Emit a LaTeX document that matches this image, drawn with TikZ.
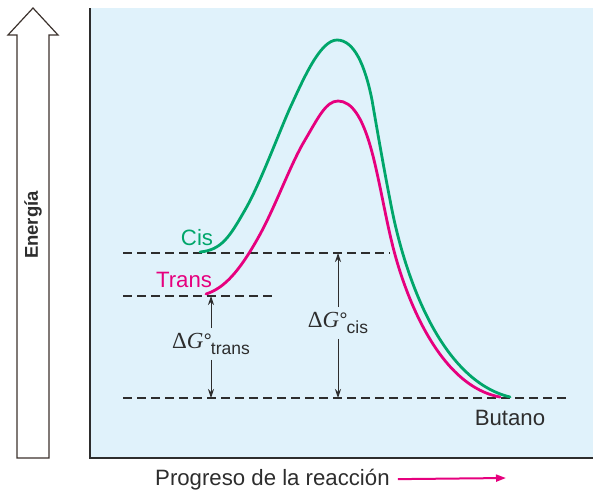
\documentclass[tikz,border=0pt]{standalone}
\usepackage{fontspec}
\setmainfont{Liberation Sans}
\newfontfamily\serifG{Liberation Serif}
\usetikzlibrary{arrows.meta}
\definecolor{panelblue}{RGB}{224,242,251}
\definecolor{cisgreen}{RGB}{0,166,106}
\definecolor{transpink}{RGB}{230,0,126}
\definecolor{inkgray}{RGB}{45,45,45}
\definecolor{arrowink}{RGB}{60,50,45}
\newcommand{\dGlabel}[1]{{\serifG\fontsize{23}{24}\selectfont Δ\textit{G}}{\fontsize{21}{21}\selectfont °}\kern-1pt\raisebox{-6pt}{\fontsize{17.5}{20}\selectfont #1}}

\begin{document}
\begin{tikzpicture}[x=1pt,y=-1pt,
  level/.style={draw=inkgray,line width=1.3pt,dash pattern=on 9pt off 5pt},
  curve/.style={line width=2.8pt,line join=round,line cap=round},
  lbl/.style={font=\fontsize{22.2}{24}\selectfont,inner sep=0pt},
  dg/.style={-{Stealth[length=9pt,width=6pt,inset=3pt]},draw=inkgray,line width=0.9pt}]
  \useasboundingbox (0,0) rectangle (593,491);
  % panel
  \fill[panelblue] (90,8) rectangle (593,458);
  \draw[inkgray,line width=2.2pt] (90,8) -- (90,458) -- (593,458);
  % energy arrow
  \draw[arrowink,line width=1.2pt,fill=white,line join=miter]
    (17,458) -- (17,35) -- (8,35) -- (33,8) -- (58,35) -- (49,35) -- (49,458) -- cycle;
  \node[rotate=90,inner sep=0pt,font=\bfseries\fontsize{18.5}{20}\selectfont,text=inkgray] (energia) at (33,225) {Energía};
  % levels
  \foreach \y/\xe in {253/390,296/275,398/568}
    \draw[level] (123,\y) -- (\xe,\y);
  % curves
  \draw[curve,transpink] (206,294) .. controls (225,288) and (240,270) .. (258,238)
    .. controls (275,208) and (290,165) .. (305,140)
    .. controls (318,118) and (326,101) .. (338,101)
    .. controls (352,101) and (362,118) .. (370,145)
    .. controls (378,172) and (385,215) .. (392,243)
    .. controls (402,285) and (435,385) .. (500,397);
  \draw[curve,cisgreen] (200,252) .. controls (222,250) and (230,236) .. (245,210)
    .. controls (260,184) and (278,135) .. (290,108)
    .. controls (303,80) and (320,40) .. (337,40)
    .. controls (354,40) and (365,65) .. (372,100)
    .. controls (378,135) and (385,175) .. (392,210)
    .. controls (405,275) and (440,380) .. (510,397);
  % labels
  \node[lbl,text=cisgreen] (cis) at (197,238) {Cis};
  \node[lbl,text=transpink] (trans) at (184,280) {Trans};
  \node[lbl,text=inkgray] (butano) at (510,418) {Butano};
  % free energy differences
  \coordinate (translvl) at (211,296);
  \coordinate (butlvlA) at (211,398);
  \coordinate (cislvl) at (338,253);
  \coordinate (butlvlB) at (338,398);
  \node[text=inkgray,inner sep=5pt] (dgtrans) at (211,344) {\dGlabel{trans}};
  \node[text=inkgray,inner sep=5pt] (dgcis) at (338,323) {\dGlabel{cis}};
  \draw[dg] (dgtrans) -- (translvl);
  \draw[dg] (dgtrans) -- (butlvlA);
  \draw[dg] (dgcis) -- (cislvl);
  \draw[dg] (dgcis) -- (butlvlB);
  % reaction axis
  \node[lbl,anchor=base west,text=inkgray] (progreso) at (155,485) {Progreso de la reacción};
  \coordinate (axend) at (506,478);
  \draw[transpink,line width=2pt,-{Triangle[length=10pt,width=7pt]}] ([xshift=8pt]progreso.east) -- (axend);
\end{tikzpicture}
\end{document}
